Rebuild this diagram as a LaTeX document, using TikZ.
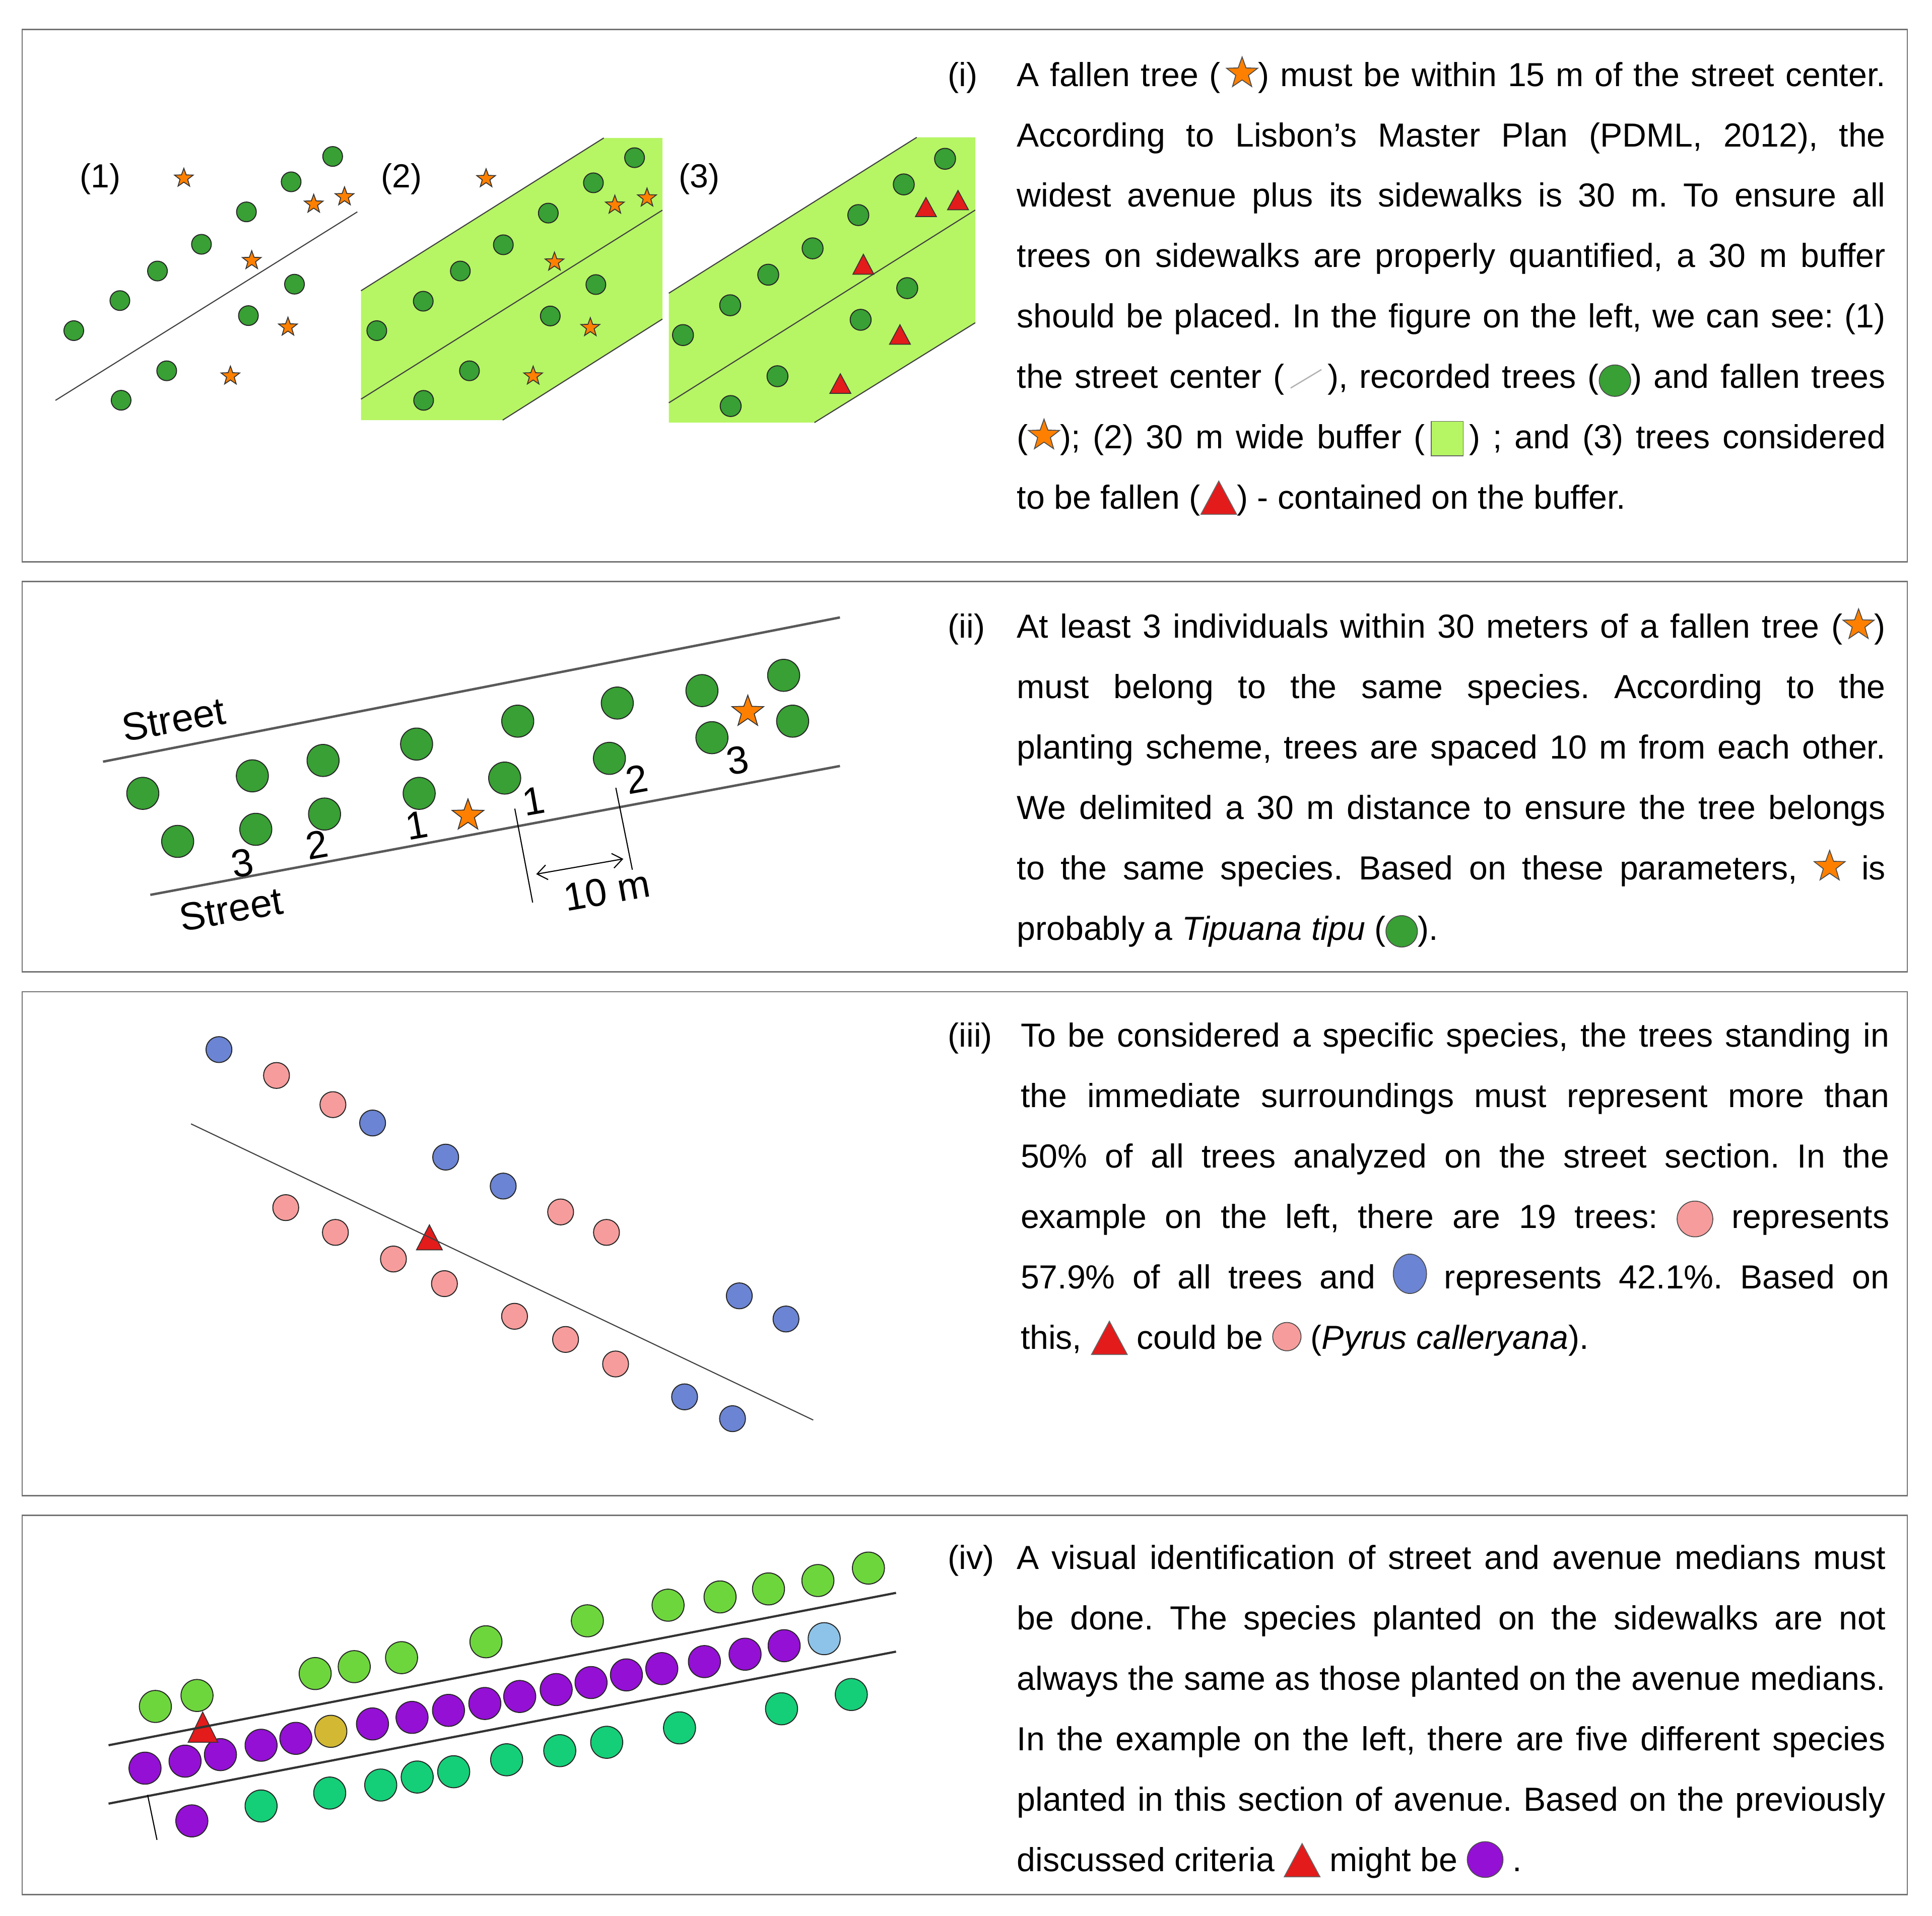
\documentclass[tikz,border=0pt]{standalone}
\usepackage{fontspec}
\setmainfont{Liberation Sans}
\usepackage{tikz}
\usetikzlibrary{shapes.geometric}
\usetikzlibrary{arrows.meta}

\definecolor{treegreen}{HTML}{38A034}
\definecolor{buffergreen}{HTML}{B6F564}
\definecolor{starorange}{HTML}{FF8000}
\definecolor{fallred}{HTML}{E31B1B}
\definecolor{pearpink}{HTML}{F79C9C}
\definecolor{tipublue}{HTML}{6B84D3}
\definecolor{walkgreen}{HTML}{6ED63D}
\definecolor{medpurple}{HTML}{9410D5}
\definecolor{rowteal}{HTML}{14CF78}
\definecolor{oddyellow}{HTML}{D3B833}
\definecolor{oddblue}{HTML}{8DC3E8}

% justified text lines
\newlength{\linew}
\setlength{\linew}{141mm}
\newcommand{\jl}[1]{\hbox to \linew{#1}}
\frenchspacing

% little symbols inside the text
\newcommand{\icstar}{\tikz[baseline=-2.1mm]\node[anchor=center, star, star points=5, star point ratio=2.45, draw=black!70, fill=starorange, line width=.4pt, inner sep=0pt, minimum size=5.3mm] (icstar) {};}
\newcommand{\icdot}[3]{\tikz[baseline=-#2]\node[anchor=center, circle, draw=black!70, fill=#3, line width=.4pt, inner sep=0pt, minimum size=#1] (icdot) {};}
\newcommand{\icoval}[1]{\tikz[baseline=-2.4mm]\draw[draw=black!70, fill=#1, line width=.4pt] (0mm,0mm) ellipse [x radius=2.7mm, y radius=3.2mm];}
\newcommand{\ictri}{\tikz[baseline=0.9mm]\draw[draw=black!60, fill=fallred, line width=.4pt] (0mm,0mm) -- (5.8mm,0mm) -- (2.9mm,5.4mm) -- cycle;}
\newcommand{\icline}{\tikz[baseline=0mm]\draw[black!30, line width=.6pt] (0mm,0mm) -- (5mm,3mm);}
\newcommand{\icbuf}{\tikz[baseline=1.2mm]\draw[draw=black!60, fill=buffergreen, line width=.4pt] (0mm,0mm) rectangle (5.2mm,5.6mm);}

\begin{document}
\begin{tikzpicture}[x=0.2mm, y=-0.2mm,
  > = {Straight Barb[length=1.6mm, width=2.4mm]},
  txt/.style = {anchor=base west, inner sep=0pt, font=\fontsize{15.4}{27.9}\selectfont},
  lab/.style = {inner sep=0pt, rotate=10, font=\fontsize{18}{21}\selectfont},
  panel/.style = {draw=black!55, line width=0.6pt},
  midline/.style = {draw=black!75, line width=0.5pt},
  street/.style = {draw=black!65, line width=1.1pt},
  median/.style = {draw=black!80, line width=1pt},
  tdot/.style = {circle, draw=black!85, line width=0.45pt, inner sep=0pt},
  fstar/.style = {star, star points=5, star point ratio=2.45, draw=black!80, fill=starorange, inner sep=0pt, line width=0.4pt},
  ftri/.style = {draw=black!80, fill=fallred, line width=0.4pt}
  ]
  \fill[white] (0,0) rectangle (1568,1555);
  \useasboundingbox (0,0) rectangle (1568,1555);

  % the four boxes
  \draw[panel] (18,24) rectangle (1548,456);
  \draw[panel] (18,472) rectangle (1548,789);
  \draw[panel] (18,805) rectangle (1548,1214);
  \draw[panel] (18,1230) rectangle (1548,1538);

  %%% (i) -- street center, buffer, fallen trees
  \node[txt, anchor=base] (l1) at (81.5,152.5) {(1)};
  \draw[midline] (45,325) -- (290,172);
  \foreach \x/\y [count=\i] in {270/127,236.3/147.6,200/172,163.5/198.3,127.8/220,97.3/244,59.9/268.4,239/230.7,201.6/256.2,135.3/301,98.3/324.9}
    \node[tdot, fill=treegreen, minimum size=3.2mm] (ta\i) at (\x,\y) {};
  \foreach \x/\y [count=\i] in {149.2/144.6,254.6/165.7,279.6/159.7,204.3/211.5,233.7/265.5,187/305.2}
    \node[fstar, minimum size=3.2mm] (sa\i) at (\x,\y) {};

  \node[txt, anchor=base] (l2) at (325.7,152.5) {(2)};
  \fill[buffergreen] (293,236) -- (490,112) -- (537.6,112) -- (537.6,259) -- (408,341) -- (293,341) -- cycle;
  \draw[midline] (293,236) -- (490,112);
  \draw[midline] (293,324) -- (537.6,170.6);
  \draw[midline] (408,341) -- (537.6,259);
  \foreach \x/\y [count=\i] in {515/128,481.6/148.4,445/173,408.5/198.7,373.6/220,343.5/244.5,305.8/268.4,483.6/231,446.6/256.5,381/301,343.8/325}
    \node[tdot, fill=treegreen, minimum size=3.2mm] (tb\i) at (\x,\y) {};
  \foreach \x/\y [count=\i] in {394.5/145,499/166.5,525.1/160.7,450/212.7,479.1/265.9,432.7/305.2}
    \node[fstar, minimum size=3.2mm] (sb\i) at (\x,\y) {};

  \node[txt, anchor=base] (l3) at (567.5,152.5) {(3)};
  \fill[buffergreen] (542.8,238) -- (744,111.5) -- (791.5,111.5) -- (791.5,262) -- (661,343) -- (542.8,343) -- cycle;
  \draw[midline] (542.8,238) -- (744,111.5);
  \draw[midline] (542.8,327) -- (791.5,170.5);
  \draw[midline] (661,343) -- (791.5,262);
  \foreach \x/\y [count=\i] in {767/128.9,733.5/149.7,696.6/174.6,659.5/201.6,623.5/223,592.6/247.8,554.3/272,736.3/233.9,698.5/259.6,631/305.4,593/329.6}
    \node[tdot, fill=treegreen, minimum size=3.4mm] (tc\i) at (\x,\y) {};
  \foreach \x/\a/\b in {751.5/160.3/175.8,777.5/154.6/170.3,700.7/206.4/222.6,730.4/263.6/279.5,682/303.4/319.3}
    \draw[ftri] (\x-8.5,\b) -- (\x+8.5,\b) -- (\x,\a) -- cycle;

  \node[txt] (i0) at (769,70) {(i)};
  \node[txt] (i1) at (825,70) {\jl{A fallen tree (\,\icstar) must be within 15 m of the street center.}};
  \node[txt] (i2) at (825,119) {\jl{According to Lisbon’s Master Plan (PDML, 2012), the}};
  \node[txt] (i3) at (825,168) {\jl{widest avenue plus its sidewalks is 30 m. To ensure all}};
  \node[txt] (i4) at (825,217) {\jl{trees on sidewalks are properly quantified, a 30 m buffer}};
  \node[txt] (i5) at (825,266) {\jl{should be placed. In the figure on the left, we can see: (1)}};
  \node[txt] (i6) at (825,315) {\jl{the street center (\,\icline\,), recorded trees (\icdot{5.1mm}{1.2mm}{treegreen}) and fallen trees}};
  \node[txt] (i7) at (825,364) {\jl{(\icstar); (2) 30 m wide buffer (\,\icbuf\,) ; and (3) trees considered}};
  \node[txt] (i8) at (825,413) {to be fallen (\ictri) - contained on the buffer.};

  %%% (ii) -- neighbours along the street
  \draw[street] (83.6,618.3) -- (681.7,501.2);
  \draw[street] (122,726.4) -- (681.7,621.8);
  \node[lab] (st1) at (141,584) {Street};
  \node[lab] (st2) at (187.5,738) {Street};
  \foreach \x/\y [count=\i] in {115.9/644,204.8/629.8,262.2/617.3,338.1/604,420.2/585.4,501/570.7,569.7/560.6,636/548.2,144.2/683,207.6/673.2,263.4/660.8,340.2/644,409.6/631.6,494.6/615.6,577.8/598.8,643.3/585.4}
    \node[tdot, fill=treegreen, minimum size=5.2mm] (td\i) at (\x,\y) {};
  \node[fstar, minimum size=5.4mm] (sd1) at (379.8,662) {};
  \node[fstar, minimum size=5.4mm] (sd2) at (606.9,577.8) {};
  \foreach \x/\y/\t [count=\i] in {196.7/700.7/3,257.3/685.6/2,338/670/1,433/650.2/1,517/632.5/2,598.8/617.3/3}
    \node[lab] (nr\i) at (\x,\y) {\t};
  \coordinate (da1) at (417.8,656.4);
  \coordinate (da2) at (432.3,732.6);
  \coordinate (db1) at (499.8,639.5);
  \coordinate (db2) at (513.2,706);
  \draw[line width=0.5pt] (da1) -- (da2);
  \draw[line width=0.5pt] (db1) -- (db2);
  \coordinate (ar1) at (435.2,709.6);
  \coordinate (ar2) at (505.9,697.2);
  \draw[<->, line width=0.5pt] (ar1) -- (ar2);
  \node[lab] (dist) at (492.5,723) {10 m};

  \node[txt] (ii0) at (769,518) {(ii)};
  \node[txt] (ii1) at (825,518) {\jl{At least 3 individuals within 30 meters of a fallen tree (\icstar)}};
  \node[txt] (ii2) at (825,567) {\jl{must belong to the same species. According to the}};
  \node[txt] (ii3) at (825,616) {\jl{planting scheme, trees are spaced 10 m from each other.}};
  \node[txt] (ii4) at (825,665) {\jl{We delimited a 30 m distance to ensure the tree belongs}};
  \node[txt] (ii5) at (825,714) {\jl{to the same species. Based on these parameters, \icstar{} is}};
  \node[txt] (ii6) at (825,763) {probably a \textit{Tipuana tipu} (\icdot{5.1mm}{1.4mm}{treegreen}).};

  %%% (iii) -- majority of the section
  \draw[ftri] (338,1014.6) -- (359,1014.6) -- (348.5,994.3) -- cycle;
  \draw[midline] (155,912.3) -- (660,1152.7);
  \foreach \x/\y [count=\i] in {177.7/852,302.4/911.6,361.7/939.3,408.4/962.8,600/1051.9,637.9/1070.7,555.6/1133.9,594.5/1151.6}
    \node[tdot, fill=tipublue, minimum size=4.2mm] (tu\i) at (\x,\y) {};
  \foreach \x/\y [count=\i] in {224.4/873,270.2/896.7,455/983.8,492.2/1000.4,231.9/980.3,272.2/1000.4,319.3/1022,360.7/1042,417.6/1068.5,459/1087.3,499.6/1107.2}
    \node[tdot, fill=pearpink, minimum size=4.2mm] (tp\i) at (\x,\y) {};

  \node[txt] (iii0) at (769,850) {(iii)};
  \node[txt] (iii1) at (828,850) {\jl{To be considered a specific species, the trees standing in}};
  \node[txt] (iii2) at (828,899) {\jl{the immediate surroundings must represent more than}};
  \node[txt] (iii3) at (828,948) {\jl{50\% of all trees analyzed on the street section. In the}};
  \node[txt] (iii4) at (828,997) {\jl{example on the left, there are 19 trees: \icdot{5.8mm}{1.5mm}{pearpink} represents}};
  \node[txt] (iii5) at (828,1046) {\jl{57.9\% of all trees and \icoval{tipublue} represents 42.1\%. Based on}};
  \node[txt] (iii6) at (828,1095) {this, \ictri{} could be \icdot{4.6mm}{2mm}{pearpink} (\textit{Pyrus calleryana}).};

  %%% (iv) -- sidewalks and median
  \foreach \x/\y [count=\i] in {126.1/1385.2,159.9/1376.3,255.8/1358.5,287.5/1352.9,325.9/1345.6,394.4/1332.7,476.7/1315.7,542.2/1303,584.4/1296.3,623.7/1289.8,663.8/1283,704.8/1272.9}
    \node[tdot, fill=walkgreen, minimum size=5.2mm] (tw\i) at (\x,\y) {};
  \foreach \x/\y [count=\i] in {117.7/1435.3,150.2/1429.6,178.9/1424.3,211.9/1416.7,240.1/1411.1,302.3/1399.4,334.4/1394.1,364/1388.4,393.5/1382.8,421.8/1377.1,451.4/1371.5,479.7/1365.8,508.4/1359.6,537.1/1354.5,571.7/1348.8,604.7/1342.8,636.4/1335.9,155.7/1478.1}
    \node[tdot, fill=medpurple, minimum size=5.2mm] (tm\i) at (\x,\y) {};
  \node[tdot, fill=oddyellow, minimum size=5.2mm] (ty) at (268.5,1405.4) {};
  \node[tdot, fill=oddblue, minimum size=5.2mm] (tl) at (668.9,1330.2) {};
  \foreach \x/\y [count=\i] in {211.9/1466,267.6/1455.5,309/1449,338.6/1442.5,368.2/1438.2,411.2/1428.5,454.3/1421.1,492.4/1414.3,551.5/1402.6,634.3/1387.1,690.9/1375.5}
    \node[tdot, fill=rowteal, minimum size=5.2mm] (tt\i) at (\x,\y) {};
  \draw[ftri] (152.7,1414.3) -- (176.8,1414.3) -- (164.5,1389.7) -- cycle;
  \draw[median] (88.1,1416.7) -- (727.2,1293);
  \draw[median] (88.1,1464.1) -- (727.2,1340.7);
  \draw[line width=0.5pt] (119.8,1457) -- (127.4,1493.5);

  \node[txt] (iv0) at (769,1274) {(iv)};
  \node[txt] (iv1) at (825,1274) {\jl{A visual identification of street and avenue medians must}};
  \node[txt] (iv2) at (825,1323) {\jl{be done. The species planted on the sidewalks are not}};
  \node[txt] (iv3) at (825,1372) {\jl{always the same as those planted on the avenue medians.}};
  \node[txt] (iv4) at (825,1421) {\jl{In the example on the left, there are five different species}};
  \node[txt] (iv5) at (825,1470) {\jl{planted in this section of avenue. Based on the previously}};
  \node[txt] (iv6) at (825,1519) {discussed criteria \ictri{} might be \icdot{5.8mm}{1.9mm}{medpurple} .};
\end{tikzpicture}
\end{document}
